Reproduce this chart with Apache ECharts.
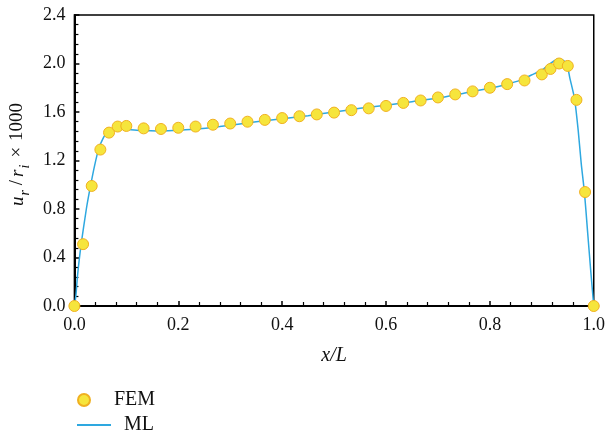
<!DOCTYPE html>
<html>
<head>
<meta charset="utf-8">
<script src="https://cdn.jsdelivr.net/npm/echarts@6/dist/echarts.min.js"></script>
<style>html,body{margin:0;padding:0;background:#fff;}#c{width:608px;height:439px;}</style>
</head>
<body>
<div id="c"></div>
<script>
// FEM reference values (x/L, u_r/r_i x 1000)
const femX = [0, 0.0167, 0.0333, 0.05, 0.0667, 0.0833, 0.1, 0.1333, 0.1667, 0.2, 0.2333, 0.2667,
  0.3, 0.3333, 0.3667, 0.4, 0.4333, 0.4667, 0.5, 0.5333, 0.5667, 0.6, 0.6333, 0.6667, 0.7,
  0.7333, 0.7667, 0.8, 0.8333, 0.8667, 0.9, 0.9167, 0.9333, 0.95, 0.9667, 0.9833, 1.0];
const femY = [0, 0.51, 0.99, 1.29, 1.43, 1.48, 1.485, 1.465, 1.46, 1.47, 1.48, 1.495,
  1.505, 1.52, 1.535, 1.55, 1.565, 1.58, 1.595, 1.615, 1.63, 1.65, 1.675, 1.695, 1.72,
  1.745, 1.77, 1.8, 1.83, 1.86, 1.91, 1.955, 2.0, 1.98, 1.70, 0.94, 0];
// ML prediction curve
const mlX = [0, 0.003, 0.006, 0.013, 0.023, 0.031, 0.039, 0.047, 0.055, 0.063, 0.075, 0.09,
  0.105, 0.13, 0.16, 0.19, 0.23, 0.28, 0.35, 0.4, 0.45, 0.5, 0.55, 0.6, 0.65, 0.7, 0.75,
  0.8, 0.83, 0.86, 0.88, 0.9, 0.915, 0.93, 0.94, 0.948, 0.954, 0.963, 0.97, 0.976, 0.982,
  0.988, 0.994, 1.0];
const mlY = [0, 0.09, 0.25, 0.51, 0.80, 0.99, 1.16, 1.30, 1.38, 1.435, 1.455, 1.458,
  1.455, 1.447, 1.443, 1.447, 1.457, 1.48, 1.52, 1.545, 1.57, 1.6, 1.63, 1.655, 1.685, 1.715, 1.755,
  1.795, 1.825, 1.865, 1.905, 1.945, 1.995, 2.035, 2.03, 2.0, 1.88, 1.71, 1.45, 1.17, 0.94,
  0.62, 0.30, 0];
const xTicks = {min: 0, max: 1, interval: 0.2};
const yTicks = {min: 0, max: 2.4, interval: 0.4};
const seriesNames = ['FEM', 'ML'];

const font = 'Liberation Serif';
const chart = echarts.init(document.getElementById('c'), null, {renderer: 'canvas'});
const labelStyle = {color: '#111', fontFamily: font, fontSize: 18};
const axisCommon = {
  axisLine: {show: true, lineStyle: {color: '#000', width: 2}},
  axisTick: {show: true, inside: true, length: 5, lineStyle: {color: '#000', width: 1.5}},
  minorTick: {show: true, splitNumber: 5, length: 4, lineStyle: {color: '#000', width: 1.2}},
  splitLine: {show: false}
};
const legendText = {fontFamily: font, fontSize: 20, color: '#111', padding: [0, 0, 0, 8]};
const nameTok = {fontFamily: font, fontSize: 19, color: '#111', verticalAlign: 'bottom', lineHeight: 22};
chart.setOption({
  animation: false,
  textStyle: {fontFamily: font},
  grid: {left: 73, right: 13, top: 15, bottom: 133, show: true, borderColor: '#000', borderWidth: 1.5},
  xAxis: Object.assign({}, axisCommon, {
    type: 'value', min: xTicks.min, max: xTicks.max, interval: xTicks.interval,
    axisLabel: Object.assign({}, labelStyle, {margin: 10, formatter: v => v.toFixed(1)}),
    name: 'x/L', nameLocation: 'middle', nameGap: 40,
    nameTextStyle: {fontFamily: font, fontStyle: 'italic', fontSize: 20, color: '#111'}
  }),
  yAxis: Object.assign({}, axisCommon, {
    type: 'value', min: yTicks.min, max: yTicks.max, interval: yTicks.interval,
    axisLabel: Object.assign({}, labelStyle, {margin: 9, formatter: v => v.toFixed(1)}),
    name: '{i|u}{s|r}{sl|/}{i|r}{s|i}{n|×}{n|1000}', nameLocation: 'middle', nameGap: 46, nameRotate: 90,
    nameTextStyle: {
      fontFamily: font, fontSize: 19, color: '#111', padding: [0, 0, 0, 14],
      rich: {
        i: Object.assign({}, nameTok, {fontStyle: 'italic'}),
        s: Object.assign({}, nameTok, {fontStyle: 'italic', fontSize: 14, padding: [0, 3, -5, 1]}),
        sl: Object.assign({}, nameTok, {padding: [0, 3, 0, 2]}),
        n: Object.assign({}, nameTok, {padding: [0, 2, 0, 4]})
      }
    }
  }),
  legend: [
    {
      left: 72, top: 385, itemWidth: 34, itemHeight: 12, icon: 'circle',
      textStyle: legendText, data: [seriesNames[0]]
    },
    {
      left: 72, top: 410, itemWidth: 34, itemHeight: 2, icon: 'rect',
      textStyle: legendText, data: [seriesNames[1]]
    }
  ],
  series: [
    {
      name: seriesNames[1], type: 'line', data: mlX.map((x, i) => [x, mlY[i]]),
      symbol: 'none', showSymbol: false, smooth: 0.2, z: 2,
      lineStyle: {color: '#2ea8e0', width: 1.5}, itemStyle: {color: '#2ea8e0'}
    },
    {
      name: seriesNames[0], type: 'scatter', data: femX.map((x, i) => [x, femY[i]]),
      symbol: 'circle', symbolSize: 11, z: 3,
      itemStyle: {color: '#f6e53c', borderColor: '#f0b020', borderWidth: 1, opacity: 1}
    }
  ]
});
</script>
</body>
</html>
